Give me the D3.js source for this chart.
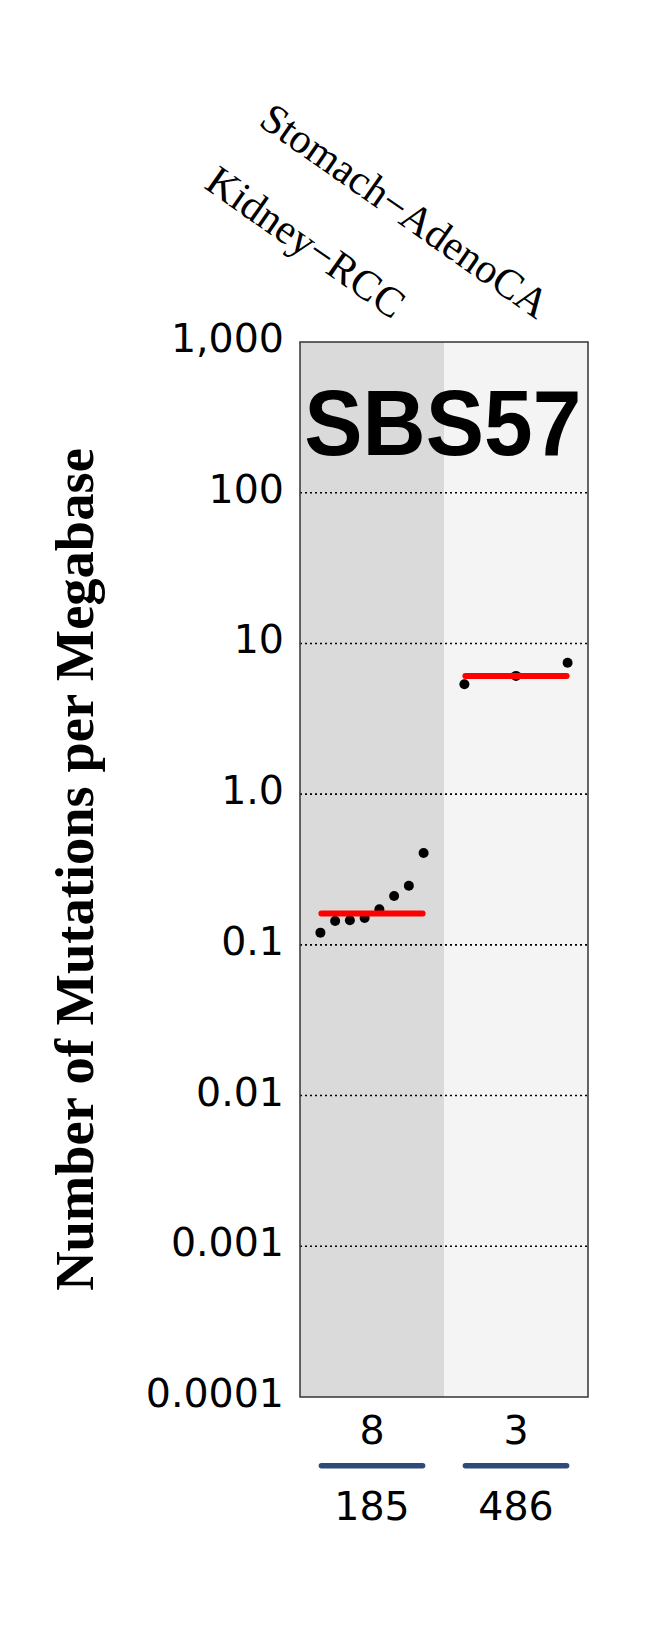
<!DOCTYPE html>
<html>
<head>
<meta charset="utf-8">
<script src="https://cdn.jsdelivr.net/npm/d3@7"></script>
<style>
  html, body { margin: 0; padding: 0; background: #fff; }
  svg { display: block; }
</style>
</head>
<body>
<script>
// ---- data ----
const categories = ["Kidney\u2212RCC", "Stomach\u2212AdenoCA"];
const kidneyValues = [0.1205, 0.144, 0.1455, 0.151, 0.172, 0.211, 0.247, 0.407];
const stomachValues = [5.36, 6.09, 7.45];
const mutatedCounts = [8, 3];
const totalCounts = [185, 486];
const yTickValues = [0.0001, 0.001, 0.01, 0.1, 1, 10, 100, 1000];
const yTickLabels = ["0.0001", "0.001", "0.01", "0.1", "1.0", "10", "100", "1,000"];
const gridValues = [0.001, 0.01, 0.1, 1, 10, 100];
const signatureName = "SBS57";
const yTitle = "Number of Mutations per Megabase";
const columnFills = ["#dadada", "#f4f4f4"];

const seriesValues = [kidneyValues, stomachValues];

// ---- layout ----
const W = 648, H = 1650;
const plotLeft = 300, plotRight = 588, plotTop = 342, plotBottom = 1397;

const svg = d3.select("body").append("svg").attr("width", W).attr("height", H);
svg.append("rect").attr("width", W).attr("height", H).attr("fill", "#fff");

const y = d3.scaleLog().domain([1e-4, 1e3]).range([plotBottom, plotTop]);
const x = d3.scaleBand().domain(categories).range([plotLeft, plotRight]).padding(0);

// column backgrounds
svg.selectAll("rect.col").data(categories).enter().append("rect")
  .attr("class", "col")
  .attr("x", d => x(d)).attr("y", plotTop)
  .attr("width", x.bandwidth()).attr("height", plotBottom - plotTop)
  .attr("fill", (d, i) => columnFills[i]);

// grid lines
svg.selectAll("line.grid").data(gridValues).enter().append("line")
  .attr("class", "grid")
  .attr("x1", plotLeft).attr("x2", plotRight)
  .attr("y1", d => y(d)).attr("y2", d => y(d))
  .attr("stroke", "#000").attr("stroke-width", 1.6)
  .attr("stroke-dasharray", "2,3");

// title
svg.append("text")
  .attr("x", 442.8).attr("y", 455)
  .attr("text-anchor", "middle")
  .attr("font-family", "'Liberation Sans', Arial, sans-serif")
  .attr("font-weight", "bold")
  .attr("font-size", 92)
  .attr("textLength", 277)
  .attr("lengthAdjust", "spacingAndGlyphs")
  .attr("fill", "#000")
  .text(signatureName);

// points + medians per column
const pad = 20.4;
categories.forEach((cat, i) => {
  const vals = seriesValues[i];
  const x0 = x(cat), x1 = x(cat) + x.bandwidth();
  const px = d3.scalePoint().domain(d3.range(vals.length)).range([x0 + pad, x1 - pad]);
  const g = svg.append("g");
  g.selectAll("circle").data(vals).enter().append("circle")
    .attr("cx", (d, j) => px(j))
    .attr("cy", d => y(d))
    .attr("r", 5)
    .attr("fill", "#000");
  const med = d3.median(vals);
  g.append("line")
    .attr("x1", x0 + pad + 1).attr("x2", x1 - pad - 1)
    .attr("y1", y(med)).attr("y2", y(med))
    .attr("stroke", "#f00").attr("stroke-width", 6)
    .attr("stroke-linecap", "round");

  // bottom counts
  const cx = x0 + x.bandwidth() / 2;
  svg.append("text")
    .attr("x", cx).attr("y", 1443.5)
    .attr("text-anchor", "middle")
    .attr("font-family", "'DejaVu Sans', sans-serif")
    .attr("font-size", 39.5)
    .attr("fill", "#000")
    .text(mutatedCounts[i]);
  svg.append("line")
    .attr("x1", x0 + pad + 1).attr("x2", x1 - pad - 1)
    .attr("y1", 1465.7).attr("y2", 1465.7)
    .attr("stroke", "#2e4a78").attr("stroke-width", 5.5)
    .attr("stroke-linecap", "round");
  svg.append("text")
    .attr("x", cx).attr("y", 1519.5)
    .attr("text-anchor", "middle")
    .attr("font-family", "'DejaVu Sans', sans-serif")
    .attr("font-size", 39.5)
    .attr("fill", "#000")
    .text(totalCounts[i]);

  // rotated category label
  const ax = cx + 20.5, ay = 320;
  svg.append("text")
    .attr("transform", `translate(${ax},${ay}) rotate(35)`)
    .attr("text-anchor", "end")
    .attr("font-family", "'Liberation Serif', 'Times New Roman', serif")
    .attr("font-size", 42)
    .attr("fill", "#000")
    .text(cat);
});

// frame
svg.append("rect")
  .attr("x", plotLeft).attr("y", plotTop)
  .attr("width", plotRight - plotLeft).attr("height", plotBottom - plotTop)
  .attr("fill", "none").attr("stroke", "#333").attr("stroke-width", 1.5);

// y tick labels
svg.selectAll("text.ytick").data(yTickValues).enter().append("text")
  .attr("class", "ytick")
  .attr("x", 284)
  .attr("y", d => y(d) + 10)
  .attr("text-anchor", "end")
  .attr("font-family", "'DejaVu Sans', sans-serif")
  .attr("font-size", 39.5)
  .attr("fill", "#000")
  .text((d, i) => yTickLabels[i]);

// y axis title
svg.append("text")
  .attr("transform", `translate(93.3,${(plotTop + plotBottom) / 2}) rotate(-90)`)
  .attr("text-anchor", "middle")
  .attr("font-family", "'Liberation Serif', 'Times New Roman', serif")
  .attr("font-weight", "bold")
  .attr("font-size", 54.5)
  .attr("fill", "#000")
  .text(yTitle);
</script>
</body>
</html>
